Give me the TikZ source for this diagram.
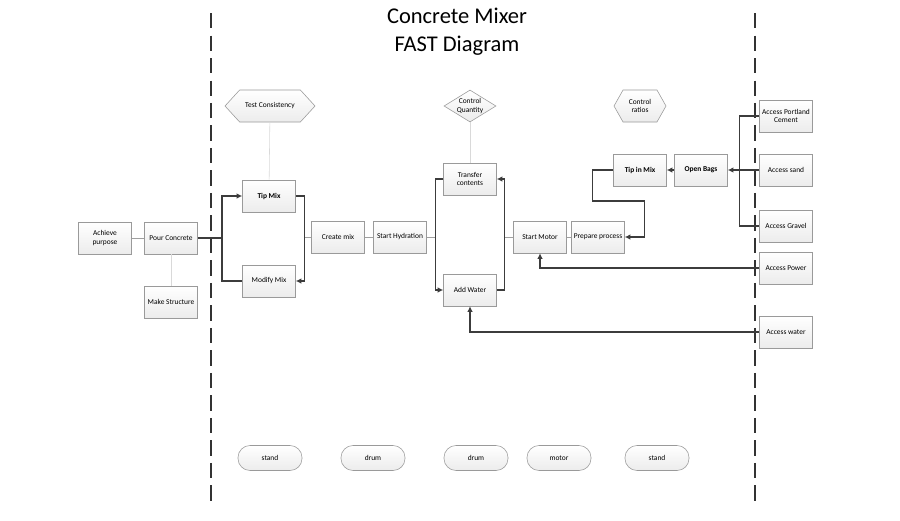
\documentclass[tikz,border=0pt]{standalone}
\usepackage{fontspec}
\setmainfont{Carlito}
\usepackage{tikz}
\usetikzlibrary{arrows.meta,positioning,calc,shapes.geometric,shapes.symbols}
\definecolor{Wire}{HTML}{3C3C3C}
\definecolor{Rim}{HTML}{9A9A9A}
\definecolor{Cut}{HTML}{333333}

\begin{document}
\begin{tikzpicture}[x=0.025cm,y=-0.025cm,
  fn/.style={draw=Rim,line width=0.4pt,top color=white,bottom color=gray!15,
    minimum width=1.325cm,minimum height=0.8cm,inner sep=1pt,align=center,
    font=\fontsize{5.3}{6.3}\selectfont},
  pill/.style={fn,rounded corners=0.3cm,minimum width=1.6cm,minimum height=0.625cm},
  hexa/.style={fn,signal,signal to=west and east},
  diam/.style={fn,diamond,inner sep=0pt,aspect=1.6,minimum width=1.3cm,minimum height=0.8cm},
  link/.style={Wire,line width=0.8pt},
  arr/.style={link,-{Latex[length=4pt,width=4pt]}},
  thin/.style={gray!75,line width=0.5pt},
  faint/.style={gray!30,line width=0.4pt},
  cut/.style={Cut,line width=2pt,dash pattern=on 11pt off 5pt}]
\useasboundingbox (0,0) rectangle (900,520);
\fill[white] (0,0) rectangle (900,520);

% scope lines
\draw[cut] (211,13) -- (211,507);
\draw[cut] (755,13) -- (755,507);

\node[font=\fontsize{16}{20}\selectfont,align=center] (title) at (457,32) {Concrete Mixer\\FAST Diagram};

% how side
\node[fn] (achieve) at (105,238) {Achieve\\purpose};
\node[fn] (pour) at (171,238) {Pour Concrete};
\node[fn] (make) at (171,302) {Make Structure};

% inside scope
\node[hexa,minimum width=2.25cm,signal pointer angle=95] (testc) at (270,106) {Test Consistency};
\node[fn,font=\fontsize{5.3}{6.3}\selectfont\bfseries] (tipmix) at (269,196) {Tip Mix};
\node[fn] (modify) at (269,281) {Modify Mix};
\node[fn] (create) at (338,237) {Create mix};
\node[fn] (hydr) at (400,237) {Start Hydration};
\node[diam] (ctrlq) at (470,106) {Control\\Quantity};
\node[fn] (transfer) at (470,179) {Transfer\\contents};
\node[fn] (water) at (470,290) {Add Water};
\node[hexa,minimum width=1.3cm,signal pointer angle=121] (ctrlr) at (640,106) {Control\\ratios};
\node[fn] (motor) at (540,237) {Start Motor};
\node[fn] (prep) at (598,237) {Prepare process};
\node[fn,font=\fontsize{5.3}{6.3}\selectfont\bfseries] (tipin) at (640,170) {Tip in Mix};
\node[fn,font=\fontsize{5.3}{6.3}\selectfont\bfseries] (bags) at (701,170) {Open Bags};

% inputs
\node[fn] (cement) at (786,116) {Access Portland\\Cement};
\node[fn] (sand) at (786,170) {Access sand};
\node[fn] (gravel) at (786,226) {Access Gravel};
\node[fn] (power) at (786,268) {Access Power};
\node[fn] (wat) at (786,332) {Access water};

% parts
\node[pill] (stand1) at (270,458) {stand};
\node[pill] (drum1) at (373,458) {drum};
\node[pill] (drum2) at (476,458) {drum};
\node[pill] (motorp) at (559,458) {motor};
\node[pill] (stand2) at (657,458) {stand};

\coordinate (splitA) at (222,238);
\coordinate (joinA) at (305,237);
\coordinate (splitB) at (435,237);
\coordinate (joinB) at (505,237);

\draw[faint] (testc) -- (tipmix);
\draw[faint] (pour) -- (make);
\draw[faint] (ctrlq) -- (transfer);

\draw[thin] (achieve) -- (pour);
\draw[link] (pour) -- (splitA);
\draw[arr] (splitA) |- (tipmix);
\draw[link] (splitA) |- (modify);
\draw[arr] (tipmix.east) -- ++(9,0) |- (modify.east);
\draw[thin] (joinA) -- (create);
\draw[thin] (create) -- (hydr);
\draw[thin] (hydr) -- (splitB);
\draw[arr] (transfer.west) -- ++(-8,0) |- (water.west);
\draw[arr] (water.east) -- ++(8,0) |- (transfer.east);
\draw[thin] (joinB) -- (motor);
\draw[thin] (motor) -- (prep);
\draw[arr] (tipin.west) -- ++(-21,0) -- ++(0,31) -| ($(prep.east)+(20,0)$) -- (prep.east);
\draw[arr] (bags) -- (tipin);
\draw[link] (cement.west) -- ++(-20,0) |- (gravel.west);
\draw[arr] (sand) -- (bags);
\draw[arr] (power.west) -| (motor.south);
\draw[arr] (wat.west) -| (water.south);
\end{tikzpicture}
\end{document}
